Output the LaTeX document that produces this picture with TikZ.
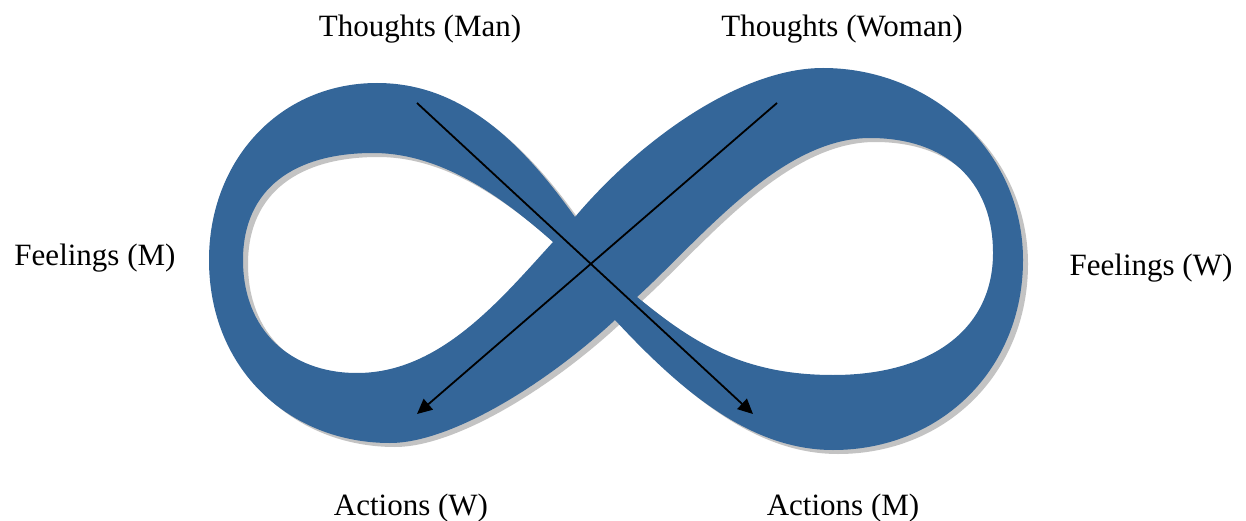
\documentclass[tikz,border=0pt]{standalone}
\usepackage{fontspec}
\setmainfont{Liberation Serif}
\usepackage{tikz}
\usetikzlibrary{positioning, arrows.meta}
\definecolor{bandblue}{HTML}{346699}
\definecolor{shadowgray}{HTML}{C3C3C3}

% outline of the infinity band, outer edge and the two holes
\newcommand{\infband}{%
  (575,217) .. controls (520,140) and (460,83) .. (377,83)
  .. controls (280,83) and (209,160) .. (209,260)
  .. controls (209,370) and (290,443) .. (390,443)
  .. controls (450,443) and (545,385) .. (615,320)
  .. controls (680,390) and (750,450) .. (833,450)
  .. controls (940,450) and (1023,370) .. (1023,260)
  .. controls (1023,150) and (930,68) .. (823,68)
  .. controls (740,68) and (640,140) .. (575,217) -- cycle
  (553,242) .. controls (500,195) and (440,153) .. (373,153)
  .. controls (295,153) and (243,188) .. (243,260)
  .. controls (243,330) and (290,373) .. (357,373)
  .. controls (440,373) and (500,300) .. (553,242) -- cycle
  (637,297) .. controls (700,240) and (780,138) .. (870,138)
  .. controls (945,138) and (993,180) .. (993,253)
  .. controls (993,330) and (930,375) .. (833,375)
  .. controls (740,375) and (690,340) .. (637,297) -- cycle}

\begin{document}
\begin{tikzpicture}[x=1pt, y=-1pt,
    lbl/.style={inner sep=0pt, font=\fontsize{31}{36}\selectfont},
    flow/.style={line width=1.8pt, -{Triangle[length=15pt, width=14pt]}}]
    \useasboundingbox (0,0) rectangle (1246,521);

    % band with its shadow
    \fill[shadowgray, even odd rule, shift={(5,4)}] \infband;
    \fill[bandblue, even odd rule] \infband;

    % labels
    \node[lbl] (tman) at (420,29) {Thoughts (Man)};
    \node[lbl] (twoman) at (842,29) {Thoughts (Woman)};
    \node[lbl] (fm) at (95,258) {Feelings (M)};
    \node[lbl] (fw) at (1151,268) {Feelings (W)};
    \node[lbl] (aw) at (411,508) {Actions (W)};
    \node[lbl] (am) at (843,508) {Actions (M)};

    % arrows through the crossing
    \coordinate (mstart) at (417,103);
    \coordinate (mend) at (753,414);
    \coordinate (wstart) at (777,103);
    \coordinate (wend) at (417,414);
    \draw[flow] (mstart) -- (mend);
    \draw[flow] (wstart) -- (wend);
\end{tikzpicture}
\end{document}
